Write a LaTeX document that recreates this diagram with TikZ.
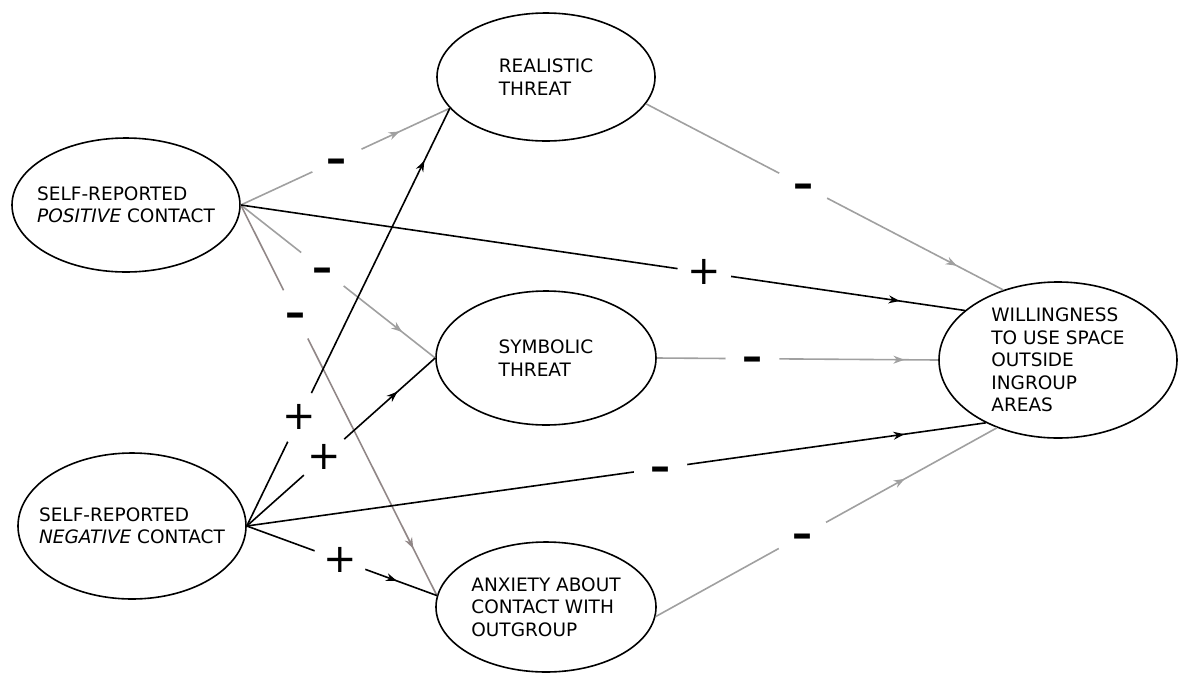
\documentclass[tikz,border=0pt]{standalone}
\usepackage{fontspec}
\setmainfont{DejaVu Sans}
\usetikzlibrary{shapes.geometric,arrows.meta,decorations.markings}
\definecolor{lgray}{RGB}{160,160,160}
\definecolor{dgray}{RGB}{145,135,135}

\begin{document}
\begin{tikzpicture}[x=1pt,y=-1pt,
    midarrow/.style={postaction={decorate},decoration={markings,
        mark=at position #1 with {\arrow{Stealth[length=11pt,width=8pt]}}}}]

      \useasboundingbox (0,0) rectangle (1178,673);

      \begin{scope}[every node/.style={ellipse,draw,line width=1.6pt,align=left,
          inner xsep=-30pt,inner ysep=-4pt,font=\fontsize{18.5}{22.5}\selectfont}]
        \node[minimum width=228pt,minimum height=134pt] (pos)  at (126,205) {SELF-REPORTED\\\textit{POSITIVE} CONTACT};
        \node[minimum width=228pt,minimum height=146pt] (neg)  at (132,526) {SELF-REPORTED\\\textit{NEGATIVE} CONTACT};
        \node[minimum width=218pt,minimum height=128pt] (real) at (546,77)  {REALISTIC\\THREAT};
        \node[minimum width=220pt,minimum height=134pt] (sym)  at (546,358) {SYMBOLIC\\THREAT};
        \node[minimum width=220pt,minimum height=130pt] (anx)  at (546,607) {ANXIETY ABOUT\\CONTACT WITH\\OUTGROUP};
        \node[minimum width=238pt,minimum height=156pt] (will) at (1058,360) {WILLINGNESS\\TO USE SPACE\\OUTSIDE\\INGROUP\\AREAS};
      \end{scope}

      \begin{scope}[every node/.style={circle,fill=white,text=black,inner sep=0pt,minimum size=54pt,
          text height=24pt,text depth=0pt,font=\fontsize{40}{40}\selectfont}]

        \begin{scope}[every edge/.style={draw,line width=1.6pt}]
          \path (pos.east)  edge[lgray,midarrow=.76] node[pos=.46] {\bfseries –} (real.198);
          \path (pos.east)  edge[lgray,midarrow=.83] node[pos=.42] {\bfseries –} (sym.west);
          \path (pos.east)  edge[dgray,midarrow=.88] node[pos=.28] {\bfseries –} (anx.174);
          \path (pos.east)  edge[midarrow=.91] node[pos=.64] {+} (will.152);
          \path (real.345)  edge[lgray,midarrow=.87] node[pos=.44] {\bfseries –} (will.128);
          \path (sym.east)  edge[lgray,midarrow=.88] node[pos=.34] {\bfseries –} (will.west);
          \path (neg.east)  edge[midarrow=.875] node[pos=.26] {+} (real.198);
          \path (neg.east)  edge[midarrow=.80] node[pos=.41] {+} (sym.west);
          \path (neg.east)  edge[midarrow=.79] node[pos=.49] {+} (anx.174);
          \path (neg.east)  edge[midarrow=.89] node[pos=.56] {\bfseries –} (will.221);
          \path (anx.355)   edge[lgray,midarrow=.73] node[pos=.43] {\bfseries –} (will.228);
        \end{scope}
      \end{scope}

    \end{tikzpicture}
\end{document}
